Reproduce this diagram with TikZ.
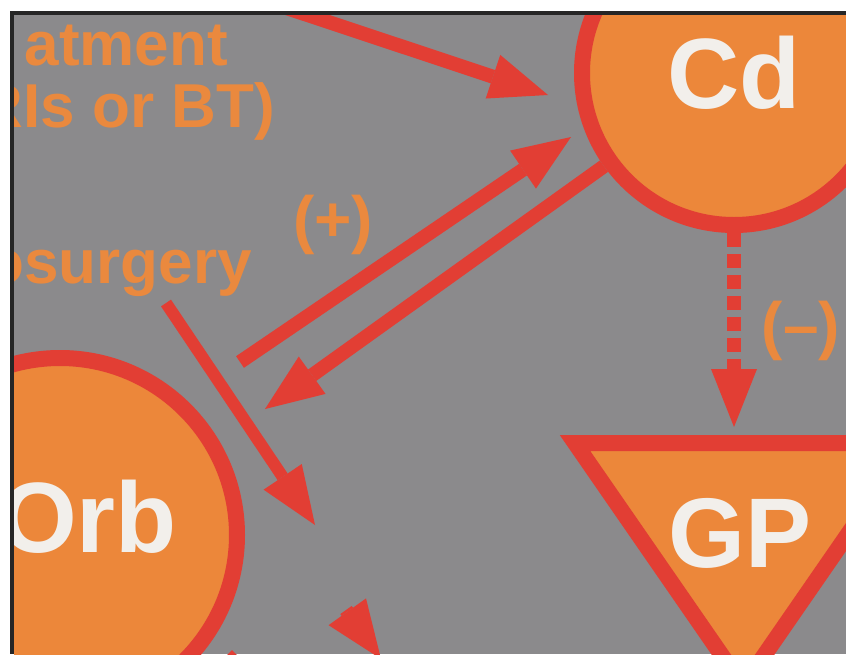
\documentclass[tikz,border=0pt]{standalone}
\usepackage{fontspec}
\setmainfont{Liberation Sans}
\usetikzlibrary{arrows.meta}

\definecolor{bggray}{RGB}{139,138,140}
\definecolor{ringred}{RGB}{226,62,52}
\definecolor{fillorange}{RGB}{236,135,58}
\definecolor{tagorange}{RGB}{234,137,62}
\definecolor{textwhite}{RGB}{242,239,235}

\tikzset{
    ring/.style={circle, draw=ringred, fill=fillorange, line width=16pt},
    bigtext/.style={text=textwhite, inner sep=0pt, font=\bfseries\fontsize{100}{100}\selectfont},
    tag/.style={text=tagorange, inner sep=0pt, font=\bfseries\fontsize{62}{62}\selectfont},
    sign/.style={tag, font=\bfseries\fontsize{64}{64}\selectfont},
    arr/.style={draw=ringred, line width=14pt,
        -{Triangle[length=58pt, width=46pt, line width=0pt]}},
}

\begin{document}
\begin{tikzpicture}[x=1pt, y=-1pt]

    \useasboundingbox (0,0) rectangle (846,654);
    \fill[white] (0,0) rectangle (846,654);
    \fill[black!85] (10,11) rectangle (846,15);
    \fill[black!85] (10,11) rectangle (14,654);
    \fill[bggray] (14,15) rectangle (846,654);

    \begin{scope}
    \clip (14,15) rectangle (846,654);

    \node[ring, bigtext, minimum size=304pt] (cd) at (734,73)
        {Cd};

    \node[ring, minimum size=354pt,
        label={[bigtext, xshift=28pt, yshift=18pt]center:Orb}] (orb) at (60,535)
        {};

    \filldraw[draw=ringred, fill=fillorange, line width=16pt, line join=miter]
        (575,443) -- (911,443) -- (743,686) -- cycle;

    \node[bigtext, font=\bfseries\fontsize{99}{99}\selectfont] (gp) at (740,533)
        {GP};

    \node[tag, anchor=base east] (treat) at (228,65)
        {atment};

    \node[tag, anchor=base east] (drugs) at (275,127)
        {RIs or BT)};

    \node[tag, anchor=base east] (neuro) at (252,283)
        {osurgery};

    \node[sign] (plus) at (333,225)
        {(+)};

    \node[sign] (minus) at (801,331)
        {(–)};

    \coordinate (treatfrom) at (148,-38);
    \coordinate (cdin) at (548,95);
    \coordinate (plusfrom) at (240,362);
    \coordinate (plusto) at (571,137);
    \coordinate (orbin) at (265,409);
    \coordinate (neurofrom) at (166,303);
    \coordinate (neuroto) at (315,525);
    \coordinate (gptop) at (cd.south |- 0,427);
    \coordinate (lowback) at (346,610);
    \coordinate (lowtip) at (381,659);
    \coordinate (lowtail) at (227,655);
    \coordinate (lowend) at (327,755);

    \draw[arr] (treatfrom) -- (cdin);
    \draw[arr] (plusfrom) -- (plusto);
    \draw[arr] (cd) -- (orbin);
    \draw[arr, line width=12pt] (neurofrom) -- (neuroto);
    \draw[arr, dash pattern=on 14pt off 7pt] (cd.south) -- (gptop);
    \draw[arr] (lowback) -- (lowtip);
    \draw[arr] (lowtail) -- (lowend);

    \end{scope}

\end{tikzpicture}
\end{document}
